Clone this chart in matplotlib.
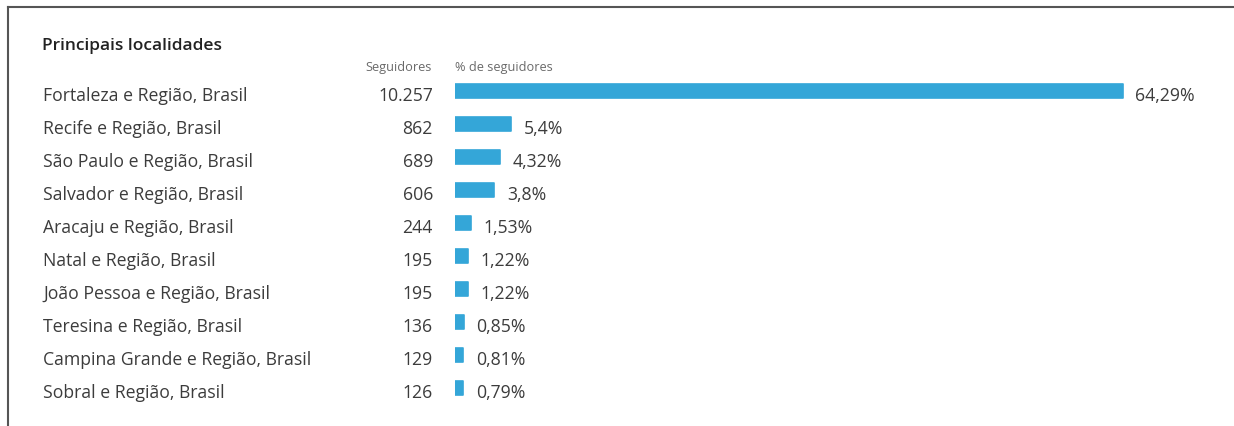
import matplotlib.pyplot as plt
from matplotlib.transforms import blended_transform_factory

plt.rcParams['font.family'] = ['Open Sans', 'DejaVu Sans']

# Principais localidades dos seguidores
locais = ['Fortaleza e Região, Brasil', 'Recife e Região, Brasil', 'São Paulo e Região, Brasil',
          'Salvador e Região, Brasil', 'Aracaju e Região, Brasil', 'Natal e Região, Brasil',
          'João Pessoa e Região, Brasil', 'Teresina e Região, Brasil',
          'Campina Grande e Região, Brasil', 'Sobral e Região, Brasil']
seguidores = ['10.257', '862', '689', '606', '244', '195', '195', '136', '129', '126']
percentual = [64.29, 5.4, 4.32, 3.8, 1.53, 1.22, 1.22, 0.85, 0.81, 0.79]

W, H = 1234, 427
AZUL = '#34a6d8'
TXT = '#3c3c3c'
FS = 12.7

fig = plt.figure(figsize=(W / 100, H / 100), dpi=100)
fig.patch.set_facecolor('white')

# eixo das barras: comeca em x=455px, 64,29% chega a 1123px
x0, x1 = 455, W
top, bottom = 75.3, 405.3
ax = fig.add_axes([x0 / W, 1 - bottom / H, (x1 - x0) / W, (bottom - top) / H])
ax.set_xlim(0, 64.29 * (x1 - x0) / (1123 - x0))
ax.set_ylim(len(locais) - 0.5, -0.5)
ax.axis('off')

ys = list(range(len(locais)))
ax.barh(ys, percentual, height=0.42, color=AZUL, edgecolor=AZUL, linewidth=1.2,
        joinstyle='round')

pxl = ax.get_xlim()[1] / (x1 - x0)         # unidades x por pixel
base = 9.6 * len(locais) / (bottom - top)  # linha de base do texto abaixo do centro da barra
for y, p in zip(ys, percentual):
    txt = ('%.2f' % p).rstrip('0').rstrip('.').replace('.', ',') + '%'
    ax.text(p + 12.5 * pxl, y + base, txt, va='baseline', ha='left', fontsize=FS, color=TXT)

tr = blended_transform_factory(fig.transFigure, ax.transData)
for y, nome, s in zip(ys, locais, seguidores):
    ax.text(43 / W, y + base, nome, transform=tr, va='baseline', ha='left', fontsize=FS, color=TXT)
    ax.text(433 / W, y + base, s, transform=tr, va='baseline', ha='right', fontsize=FS, color=TXT)

# cabecalhos
fig.text(42 / W, 1 - 50 / H, 'Principais localidades', fontsize=12.5, fontweight='semibold',
         color='#222222', va='baseline', ha='left')
fig.text(432 / W, 1 - 70.5 / H, 'Seguidores', fontsize=9.2, color='#6a6a6a', va='baseline', ha='right')
fig.text(455 / W, 1 - 70.5 / H, '% de seguidores', fontsize=9.2, color='#6a6a6a', va='baseline', ha='left')

# moldura do recorte
fig.add_artist(plt.Line2D([8 / W, 1], [1 - 7.5 / H, 1 - 7.5 / H], transform=fig.transFigure,
                          color='#555555', lw=1.5))
fig.add_artist(plt.Line2D([7.5 / W, 7.5 / W], [1 - 7.5 / H, 0], transform=fig.transFigure,
                          color='#555555', lw=1.5))

fig.savefig('out.png', dpi=100)
